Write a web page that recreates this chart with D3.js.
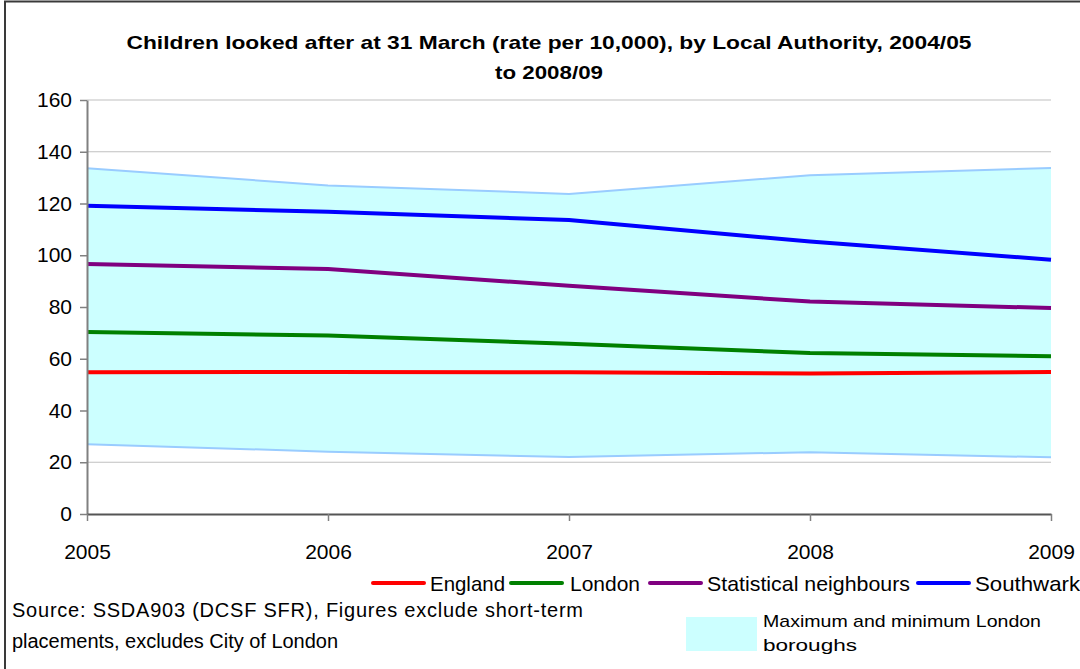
<!DOCTYPE html>
<html>
<head>
<meta charset="utf-8">
<script src="https://cdn.jsdelivr.net/npm/d3@7"></script>
<style>
  html, body { margin: 0; padding: 0; background: #fff; }
  svg { display: block; font-family: "Liberation Sans", Arial, sans-serif; }
</style>
</head>
<body>
<svg id="chart" width="1080" height="669"></svg>
<script>
// Years on the x axis (31 March of each year)
const years = [2005, 2006, 2007, 2008, 2009];

// Rate per 10,000 children
const englandValues     = [54.8, 54.9, 54.8, 54.3, 54.9];
const londonValues      = [70.3, 69.0, 65.8, 62.2, 61.0];
const statNeighbours    = [96.6, 94.7, 88.2, 82.1, 79.6];
const southwarkValues   = [119.1, 116.8, 113.6, 105.3, 98.3];
const boroughMax        = [133.6, 127.0, 123.7, 130.9, 133.7];
const boroughMin        = [27.0, 24.1, 22.0, 23.9, 21.9];

const yTicks = [0, 20, 40, 60, 80, 100, 120, 140, 160];

const seriesNames  = ["England", "London", "Statistical neighbours", "Southwark"];
const seriesColors = ["#ff0000", "#008000", "#800080", "#0000ff"];
const seriesData   = [englandValues, londonValues, statNeighbours, southwarkValues];

const titleLines = [
  "Children looked after at 31 March (rate per 10,000), by Local Authority, 2004/05",
  "to 2008/09"
];
const sourceLines = [
  "Source: SSDA903 (DCSF SFR), Figures exclude short-term",
  "placements, excludes City of London"
];
const rangeLabel = ["Maximum and minimum London", "boroughs"];

const svg = d3.select("#chart");

// outer chart frame
svg.append("rect")
  .attr("x", 5).attr("y", 1.5)
  .attr("width", 1200).attr("height", 800)
  .attr("fill", "none").attr("stroke", "#3a3a3a").attr("stroke-width", 2);

const plot = { left: 87, right: 1051, top: 100, bottom: 514 };

const x = d3.scalePoint().domain(years).range([plot.left, plot.right]);
const y = d3.scaleLinear().domain([0, 160]).range([plot.bottom, plot.top]);

// title
svg.append("g").selectAll("text").data(titleLines).join("text")
  .attr("x", 549).attr("y", (d, i) => 49 + i * 30)
  .attr("text-anchor", "middle")
  .attr("font-size", 19).attr("font-weight", "bold").attr("fill", "#000")
  .attr("textLength", (d, i) => i === 0 ? 845 : 108)
  .attr("lengthAdjust", "spacingAndGlyphs")
  .text(d => d);

// horizontal gridlines
svg.append("g").selectAll("line").data(yTicks.filter(t => t > 0)).join("line")
  .attr("x1", plot.left).attr("x2", plot.right)
  .attr("y1", d => y(d)).attr("y2", d => y(d))
  .attr("stroke", "#c0c0c0").attr("stroke-width", 1.2);

// range band of London boroughs
const band = years.map((yr, i) => ({ yr, lo: boroughMin[i], hi: boroughMax[i] }));
svg.append("path").datum(band)
  .attr("fill", "#ccffff")
  .attr("d", d3.area().x(d => x(d.yr)).y0(d => y(d.lo)).y1(d => y(d.hi)));

const edge = (arr) => d3.line().x((d, i) => x(years[i])).y(d => y(d))(arr);
[boroughMax, boroughMin].forEach(arr => {
  svg.append("path").attr("d", edge(arr))
    .attr("fill", "none").attr("stroke", "#99ccff").attr("stroke-width", 2);
});

// series lines
seriesData.forEach((arr, k) => {
  svg.append("path").attr("d", edge(arr))
    .attr("fill", "none").attr("stroke", seriesColors[k])
    .attr("stroke-width", 4).attr("stroke-linejoin", "round");
});

// y axis
const yAxis = svg.append("g")
  .attr("transform", `translate(${plot.left},0)`)
  .call(d3.axisLeft(y).tickValues(yTicks).tickSize(7).tickPadding(8).tickSizeOuter(0));
yAxis.select(".domain").attr("stroke", "#808080").attr("stroke-width", 2);
yAxis.selectAll(".tick line").attr("stroke", "#808080").attr("stroke-width", 1.5);
yAxis.selectAll(".tick text")
  .attr("font-size", 21).attr("font-family", "Liberation Sans, Arial, sans-serif").attr("fill", "#000");

// x axis
const xAxis = svg.append("g")
  .attr("transform", `translate(0,${plot.bottom})`)
  .call(d3.axisBottom(x).tickSize(7).tickPadding(23).tickSizeOuter(0));
xAxis.select(".domain").attr("stroke", "#555").attr("stroke-width", 2);
xAxis.selectAll(".tick line").attr("stroke", "#808080").attr("stroke-width", 1.5);
xAxis.selectAll(".tick text")
  .attr("font-size", 21).attr("font-family", "Liberation Sans, Arial, sans-serif").attr("fill", "#000");

// legend for the series lines
const legendItems = [
  { x1: 373, tx: 430, w: 75 },
  { x1: 511, tx: 570, w: 70 },
  { x1: 650, tx: 707, w: 203 },
  { x1: 918, tx: 975, w: 105 }
];
const legend = svg.append("g");
legendItems.forEach((p, k) => {
  legend.append("line")
    .attr("x1", p.x1).attr("x2", p.x1 + 51)
    .attr("y1", 583).attr("y2", 583)
    .attr("stroke", seriesColors[k]).attr("stroke-width", 4).attr("stroke-linecap", "round");
  legend.append("text")
    .attr("x", p.tx).attr("y", 591)
    .attr("font-size", 21).attr("fill", "#000")
    .attr("textLength", p.w).attr("lengthAdjust", "spacingAndGlyphs")
    .text(seriesNames[k]);
});

// source note
svg.append("g").selectAll("text").data(sourceLines).join("text")
  .attr("x", 12).attr("y", (d, i) => 617 + i * 31)
  .attr("font-size", 20).attr("fill", "#000")
  .attr("textLength", (d, i) => i === 0 ? 571 : 326)
  .attr("lengthAdjust", "spacing")
  .text(d => d);

// legend for the borough range band
svg.append("rect")
  .attr("x", 686).attr("y", 617).attr("width", 71).attr("height", 34)
  .attr("fill", "#ccffff");
svg.append("g").selectAll("text").data(rangeLabel).join("text")
  .attr("x", 763).attr("y", (d, i) => 627 + i * 24)
  .attr("font-size", 17).attr("fill", "#000")
  .attr("textLength", (d, i) => i === 0 ? 278 : 94)
  .attr("lengthAdjust", "spacingAndGlyphs")
  .text(d => d);
</script>
</body>
</html>
